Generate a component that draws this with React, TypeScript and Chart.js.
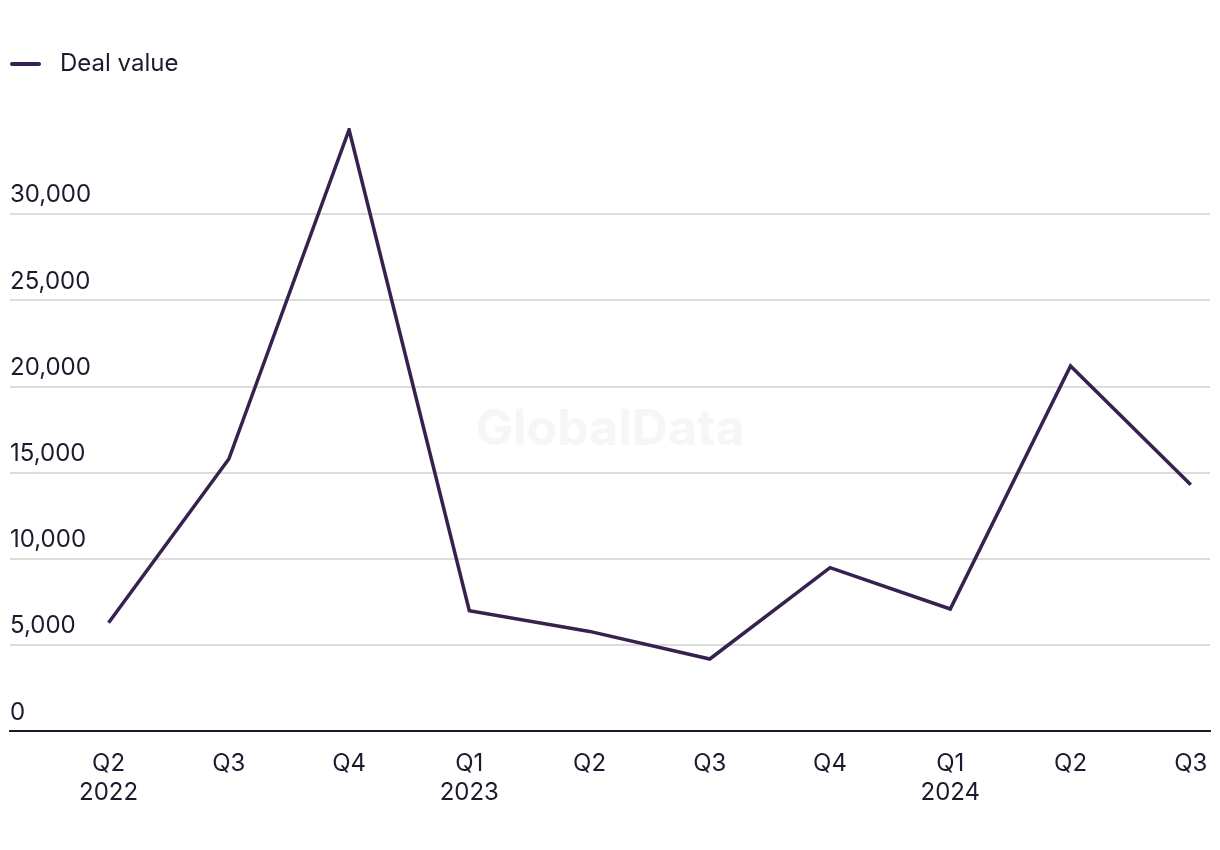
import React, { useEffect, useRef } from "react";
import { Chart, registerables } from "chart.js";

Chart.register(...registerables);

const quarterLabels: string[][] = [
  ["Q2", "2022"],
  ["Q3"],
  ["Q4"],
  ["Q1", "2023"],
  ["Q2"],
  ["Q3"],
  ["Q4"],
  ["Q1", "2024"],
  ["Q2"],
  ["Q3"],
];
const dealValues: number[] = [6300, 15800, 34900, 7000, 5800, 4200, 9500, 7100, 21200, 14300];
const yTickValues: number[] = [0, 5000, 10000, 15000, 20000, 25000, 30000];
const seriesName = "Deal value";

const FONT = "Inter, 'Noto Sans', sans-serif";
const TEXT = "#1c1b2e";
const LINE = "#36214f";

export default function App() {
  const ref = useRef<HTMLCanvasElement | null>(null);

  useEffect(() => {
    if (!ref.current) return;
    document.body.style.overflow = "hidden";

    const legendIcon = document.createElement("canvas");
    legendIcon.width = 38;
    legendIcon.height = 6;
    const ictx = legendIcon.getContext("2d")!;
    ictx.strokeStyle = LINE;
    ictx.lineWidth = 4;
    ictx.lineCap = "round";
    ictx.beginPath();
    ictx.moveTo(2, 3);
    ictx.lineTo(29, 3);
    ictx.stroke();

    const legendMargin = {
      id: "legendMargin",
      beforeInit(chart: any) {
        const legend = chart.legend;
        if (!legend) return;
        const origFit = legend.fit;
        legend.fit = function () {
          origFit.call(legend);
          this.height += 42;
        };
      },
    };

    const watermark = {
      id: "watermark",
      beforeDatasetsDraw(chart: any) {
        const { ctx, chartArea } = chart;
        ctx.save();
        ctx.font = `bold 50px ${FONT}`;
        ctx.fillStyle = "#f6f6f6";
        ctx.textAlign = "center";
        ctx.textBaseline = "middle";
        ctx.fillText("GlobalData", (chartArea.left + chartArea.right) / 2, (chartArea.top + chartArea.bottom) / 2);
        ctx.restore();
      },
    };

    const chart = new Chart(ref.current, {
      type: "line",
      data: {
        datasets: [
          {
            label: seriesName,
            data: dealValues.map((v, i) => ({ x: i, y: v })),
            borderColor: LINE,
            backgroundColor: LINE,
            borderWidth: 3.5,
            pointRadius: 0,
            pointHoverRadius: 0,
            tension: 0,
            pointStyle: legendIcon as any,
          },
        ],
      },
      options: {
        animation: false,
        responsive: true,
        maintainAspectRatio: false,
        layout: { padding: { left: 2, right: 2, top: 44, bottom: 12 } },
        plugins: {
          legend: {
            position: "top",
            align: "start",
            labels: {
              usePointStyle: true,
              pointStyleWidth: 38,
              padding: 0,
              color: TEXT,
              font: { family: FONT, size: 24 },
            },
          },
          tooltip: { enabled: false },
        },
        scales: {
          x: {
            type: "linear",
            min: -0.82,
            max: 9.16,
            afterBuildTicks: (axis: any) => {
              axis.ticks = quarterLabels.map((_, i) => ({ value: i }));
            },
            afterFit: (axis: any) => {
              axis.paddingLeft = 0;
              axis.paddingRight = 0;
            },
            grid: { display: false, drawTicks: false },
            border: { display: true, color: TEXT, width: 2 },
            ticks: {
              color: TEXT,
              font: { family: FONT, size: 24 },
              padding: 18,
              maxRotation: 0,
              autoSkip: false,
              callback: (v: any) => quarterLabels[Number(v)] ?? "",
            },
          },
          y: {
            min: 0,
            max: 35000,
            afterBuildTicks: (axis: any) => {
              axis.ticks = yTickValues.map((v) => ({ value: v }));
            },
            afterFit: (axis: any) => {
              axis.paddingTop = 0;
              axis.paddingBottom = 0;
            },
            grid: { color: "#dcdcdc", lineWidth: 2, drawTicks: false },
            border: { display: false },
            ticks: {
              mirror: true,
              padding: 0,
              labelOffset: -19,
              color: TEXT,
              font: { family: FONT, size: 24 },
              callback: (v: any) => Number(v).toLocaleString("en-US"),
            },
          },
        },
      },
      plugins: [legendMargin, watermark],
    });

    return () => chart.destroy();
  }, []);

  return (
    <div style={{ position: "relative", width: 1204, height: 829 }}>
      <canvas ref={ref} />
    </div>
  );
}
